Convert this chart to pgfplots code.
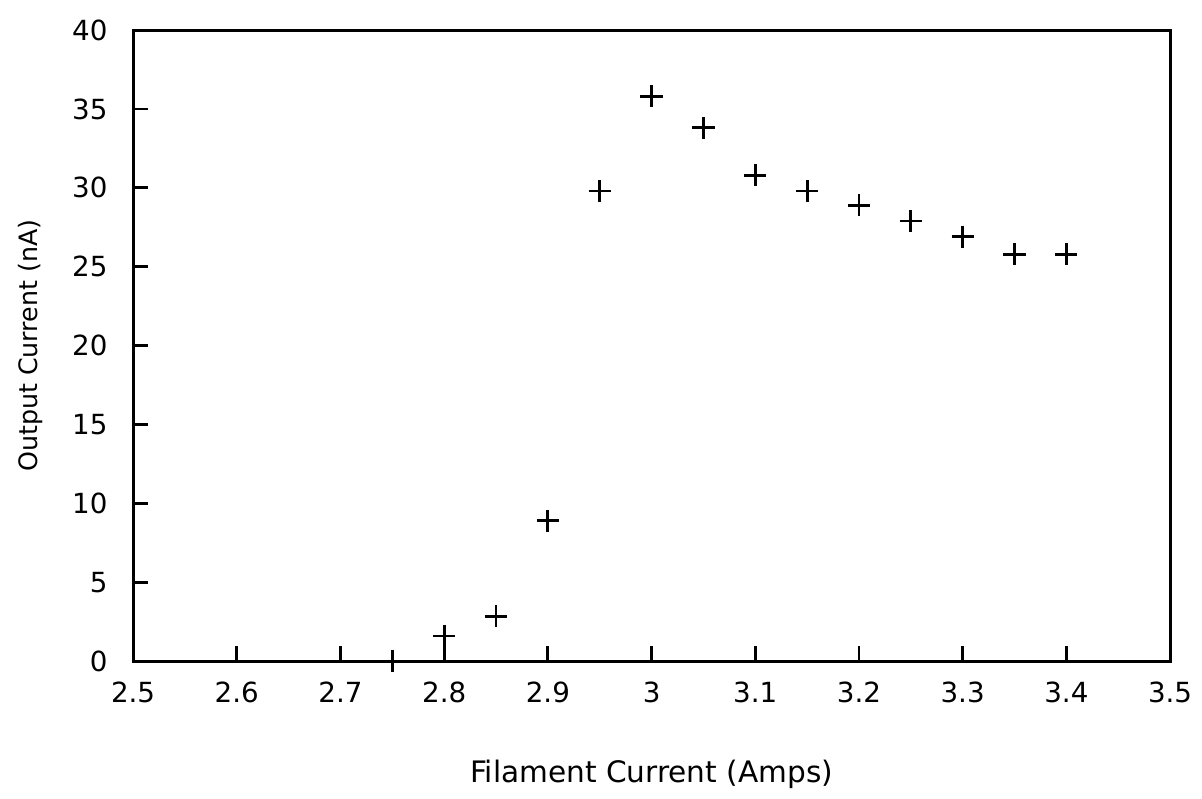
\documentclass[border=0pt]{standalone}
\usepackage{fontspec}
\setmainfont{DejaVu Sans}
\usepackage{pgfplots}
\pgfplotsset{compat=1.18}
\usetikzlibrary{calc}

\begin{document}
\fontsize{10.5}{12}\selectfont
\begin{tikzpicture}
\begin{axis}[
  scale only axis,
  width=392.7pt, height=239pt,
  xmin=2.5, xmax=3.5, ymin=0, ymax=40,
  xtick={2.5,2.6,2.7,2.8,2.9,3,3.1,3.2,3.3,3.4,3.5},
  ytick={0,5,10,15,20,25,30,35,40},
  xtick pos=left, ytick pos=left,
  tick align=inside,
  major tick length=5.7pt,
  axis line style={line width=1.1pt},
  every tick/.style={line width=1.1pt, black},
  /pgf/number format/assume math mode=true,
  xticklabel style={yshift=-4pt},
  yticklabel style={xshift=-6pt},
  xlabel={Filament Current (Amps)},
  ylabel={Output Current (nA)},
  every axis x label/.style={at={(axis description cs:0.5,0)}, anchor=center, yshift=-43pt, font=\fontsize{11.2}{13}\selectfont},
  every axis y label/.style={at={(axis description cs:0,0.5)}, anchor=center, rotate=90, yshift=39pt, font=\fontsize{9.6}{11}\selectfont},
  clip=false,
]
\addplot[only marks, mark=+, mark size=4.2pt, line width=1.1pt, black] coordinates {
  (2.75,0) (2.8,1.6) (2.85,2.85) (2.9,8.9) (2.95,29.8) (3.0,35.8) (3.05,33.8)
  (3.1,30.8) (3.15,29.8) (3.2,28.9) (3.25,27.9) (3.3,26.9) (3.35,25.8) (3.4,25.8)
};
\end{axis}
\path ($(current axis.south west)+(-50.4pt,-51.1pt)$) rectangle ($(current axis.north east)+(12.1pt,11.4pt)$);
\end{tikzpicture}
\end{document}
